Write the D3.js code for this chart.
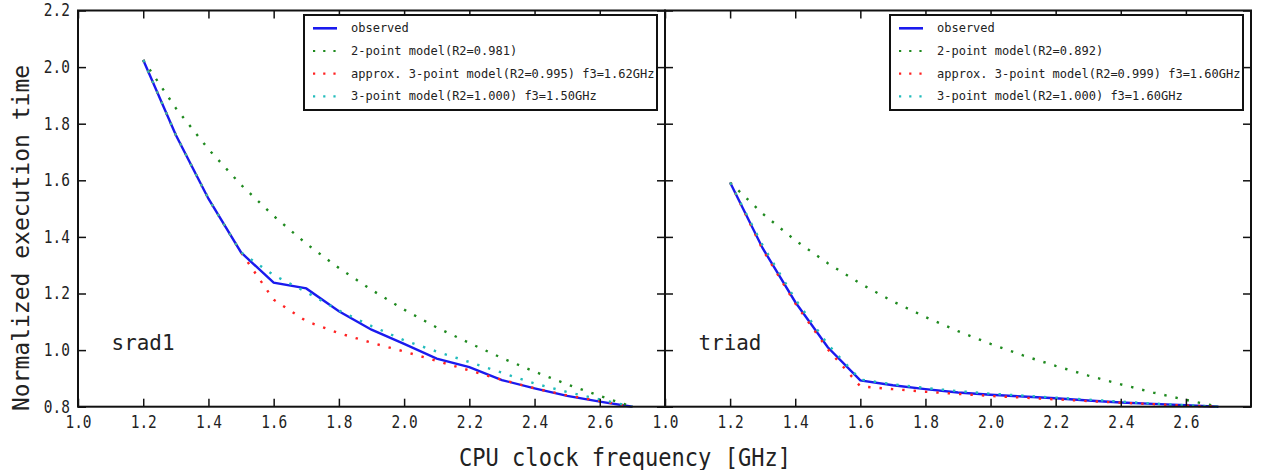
<!DOCTYPE html>
<html>
<head>
<meta charset="utf-8">
<script src="https://cdn.jsdelivr.net/npm/d3@7"></script>
<style>
  body { margin: 0; background: #fff; }
  text { font-family: "DejaVu Sans Mono", monospace; fill: #222; }
</style>
</head>
<body>
<svg id="chart" width="1262" height="470"></svg>
<script>

// clock frequencies [GHz]
var freq = [1.2,1.3,1.4,1.5,1.6,1.7,1.8,1.9,2.0,2.1,2.2,2.3,2.4,2.5,2.6,2.7];

// srad1
var sradObserved = [2.025,1.76,1.535,1.345,1.238,1.218,1.137,1.072,1.022,0.970,0.940,0.894,0.865,0.838,0.818,0.800];
var sradTwoPoint = [2.025,1.855,1.710,1.584,1.474,1.376,1.290,1.213,1.143,1.080,1.025,0.972,0.924,0.879,0.838,0.800];
var sradApprox3  = [2.025,1.76,1.535,1.345,1.178,1.102,1.060,1.026,0.995,0.962,0.928,0.895,0.865,0.840,0.820,0.800];
var sradThree    = [2.025,1.76,1.535,1.345,1.265,1.205,1.140,1.085,1.035,0.995,0.958,0.920,0.882,0.852,0.826,0.800];

// triad
var triadObserved = [1.592,1.36,1.17,1.01,0.893,0.876,0.862,0.850,0.842,0.836,0.830,0.822,0.815,0.810,0.805,0.800];
var triadTwoPoint = [1.592,1.482,1.388,1.307,1.235,1.172,1.117,1.067,1.022,0.981,0.944,0.910,0.879,0.850,0.824,0.800];
var triadApprox3  = [1.592,1.355,1.165,1.003,0.872,0.862,0.853,0.845,0.838,0.832,0.826,0.820,0.814,0.809,0.804,0.800];
var triadThree    = [1.592,1.37,1.18,1.02,0.896,0.879,0.866,0.855,0.846,0.839,0.832,0.825,0.818,0.811,0.805,0.800];

var sradLegend  = ["observed","2-point model(R2=0.981)","approx. 3-point model(R2=0.995) f3=1.62GHz","3-point model(R2=1.000) f3=1.50GHz"];
var triadLegend = ["observed","2-point model(R2=0.892)","approx. 3-point model(R2=0.999) f3=1.60GHz","3-point model(R2=1.000) f3=1.60GHz"];

var xTicks = [1.0,1.2,1.4,1.6,1.8,2.0,2.2,2.4,2.6];
var yTicks = [0.8,1.0,1.2,1.4,1.6,1.8,2.0,2.2];

var colors = ["#1a1aee","#1f8a1f","#ff2222","#22bcbc"];

var svg = d3.select("#chart");
var top_ = 10.5, bottom_ = 406.7;

function draw_panel(x0, x1, series, legend, name, showY){

  var x = d3.scaleLinear().domain([1.0,2.8]).range([x0,x1]);
  var y = d3.scaleLinear().domain([0.8,2.2]).range([bottom_,top_]);

  var g = svg.append("g");

  var line = d3.line()
               .x(function(d,i){return x(freq[i]);})
               .y(function(d){return y(d);});

  series.forEach(function(s,k){
    g.append("path")
     .attr("d", line(s))
     .attr("fill","none")
     .attr("stroke", colors[k])
     .attr("stroke-width", k==0 ? 2.4 : 2.4)
     .attr("stroke-dasharray", k==0 ? null : "2.4,9");
  });

  // ticks on all four sides, pointing inwards
  var bx = g.append("g").attr("transform","translate(0,"+bottom_+")")
            .call(d3.axisBottom(x).tickValues(xTicks).tickSizeInner(-8).tickSizeOuter(0)
                    .tickPadding(9).tickFormat(d3.format(".1f")));
  bx.selectAll("text").attr("font-size",17).attr("transform","scale(0.85,1)")
    .style("font-family",'"DejaVu Sans Mono"').attr("fill","#222");
  g.append("g").attr("transform","translate(0,"+top_+")")
   .call(d3.axisTop(x).tickValues(xTicks).tickSizeInner(-8).tickSizeOuter(0).tickFormat(""));
  var ly = g.append("g").attr("transform","translate("+x0+",0)")
            .call(d3.axisLeft(y).tickValues(yTicks).tickSizeInner(-8).tickSizeOuter(0)
                    .tickPadding(9.5).tickFormat(showY ? d3.format(".1f") : ""));
  ly.selectAll("text").attr("font-size",17).attr("transform","scale(0.85,1)")
    .style("font-family",'"DejaVu Sans Mono"').attr("fill","#222");
  g.append("g").attr("transform","translate("+x1+",0)")
   .call(d3.axisRight(y).tickValues(yTicks).tickSizeInner(-8).tickSizeOuter(0).tickFormat(""));
  g.selectAll(".domain").remove();
  g.selectAll(".tick line").attr("stroke","#111").attr("stroke-width",1.5);

  g.append("rect")
   .attr("x",x0).attr("y",top_)
   .attr("width",x1-x0).attr("height",bottom_-top_)
   .attr("fill","none").attr("stroke","#111").attr("stroke-width",2);

  g.append("text")
   .attr("transform","translate("+(x(1.1)+1)+",350) scale(0.95,1)")
   .attr("font-size",22)
   .text(name);

  // legend
  var lx = x1 - 361, ly0 = 15;
  var lg = g.append("g");
  lg.append("rect").attr("x",lx).attr("y",ly0).attr("width",353).attr("height",95)
    .attr("fill","#fff").attr("stroke","#111").attr("stroke-width",2);
  legend.forEach(function(t,k){
    var yy = ly0 + 13.3 + k*22.7;
    lg.append("line")
      .attr("x1",lx+9).attr("x2",lx+33).attr("y1",yy).attr("y2",yy)
      .attr("stroke",colors[k]).attr("stroke-width",k==0 ? 2.6 : 2.2)
      .attr("stroke-dasharray", k==0 ? null : "2.2,8");
    lg.append("text").attr("x",lx+47).attr("y",yy+4)
      .attr("font-size",12).text(t);
  });
}

draw_panel(78, 665, [sradObserved,sradTwoPoint,sradApprox3,sradThree], sradLegend, "srad1", true);
draw_panel(665, 1251, [triadObserved,triadTwoPoint,triadApprox3,triadThree], triadLegend, "triad", false);

svg.append("text")
   .attr("transform","translate(625,466) scale(0.92,1)")
   .attr("text-anchor","middle")
   .attr("font-size",24)
   .text("CPU clock frequency [GHz]");

svg.append("text")
   .attr("transform","translate(29,238) rotate(-90)")
   .attr("text-anchor","middle")
   .attr("font-size",23)
   .text("Normalized execution time");

</script>
</body>
</html>
